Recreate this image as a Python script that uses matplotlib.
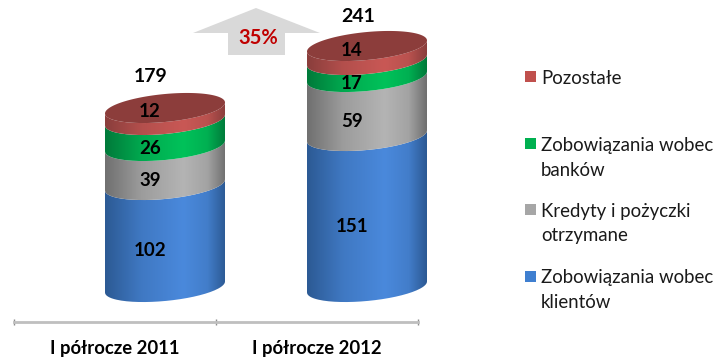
import numpy as np
import matplotlib
matplotlib.use("Agg")
import matplotlib.pyplot as plt
from matplotlib.patches import PathPatch, Polygon, Rectangle
from matplotlib.path import Path

plt.rcParams["font.family"] = ["Lato", "DejaVu Sans"]

periods = ["I półrocze 2011", "I półrocze 2012"]
series_names = ["Zobowiązania wobec\nklientów", "Kredyty i pożyczki\notrzymane",
                "Zobowiązania wobec\nbanków", "Pozostałe"]
klienci = [102, 151]
kredyty = [39, 59]
banki = [26, 17]
pozostale = [12, 14]
totals = [179, 241]
growth = "35%"

edge_cols = ["#2c5a94", "#707070", "#007a3a", "#8a3e3c"]
mid_cols = ["#4a89dc", "#b4b4b4", "#00c25a", "#c95855"]
legend_cols = ["#3f7fd0", "#a6a6a6", "#00b050", "#c0504d"]
top_col = "#8c3d3b"

W, H = 718, 358
PX = 1 / 202  # one category is 202 px wide
HALF_W = 60
ELL_B = 14
TILT = 5.5


def front_arc(cx, y, n=80):
    t = np.cos(np.linspace(np.pi, 0, n))
    return cx + t * HALF_W * PX, y + t * TILT - ELL_B * np.sqrt(1 - t ** 2)


def back_arc(cx, y, n=80):
    t = np.cos(np.linspace(0, np.pi, n))
    return cx + t * HALF_W * PX, y + t * TILT + ELL_B * np.sqrt(1 - t ** 2)


def shade(c_edge, c_mid):
    t = np.linspace(0, 1, 120)
    weight = np.interp(t, [0, 0.3, 0.65, 0.85, 1], [0, 0.65, 1, 0.75, 0])
    a = np.array(matplotlib.colors.to_rgb(c_edge))
    b = np.array(matplotlib.colors.to_rgb(c_mid))
    return (a + (b - a) * weight[:, None])[None, :, :]


def side_segment(fig, ax, cx, y0, y1, c_edge, c_mid):
    xb, yb = front_arc(cx, y0)
    xt, yt = front_arc(cx, y1)
    pts = np.vstack([np.c_[xb, yb], np.c_[xt[::-1], yt[::-1]], [[xb[0], yb[0]]]])
    patch = PathPatch(Path(pts), fc="none", ec="none", transform=ax.transData, clip_on=False)
    ax.add_patch(patch)
    im = ax.imshow(shade(c_edge, c_mid), extent=[cx - HALF_W * PX, cx + HALF_W * PX, y0 - 30, y1 + 30],
                   aspect="auto", zorder=2, interpolation="bilinear")
    im.set_clip_box(fig.bbox)
    im.set_clip_path(patch)


def main():
    fig = plt.figure(figsize=(W / 100, H / 100), dpi=100)
    ax = fig.add_axes([14 / W, (H - 322) / H, 404 / W, 322 / H])
    ax.patch.set_alpha(0)

    stack = [klienci, kredyty, banki, pozostale]
    positions = np.arange(len(periods))
    bar_offset = 50 * PX
    for i, pos in enumerate(positions):
        cx = pos + bar_offset
        bottom = 0
        for k, values in enumerate(stack):
            v = values[i]
            side_segment(fig, ax, cx, bottom, bottom + v, edge_cols[k], mid_cols[k])
            is_top = k == len(stack) - 1
            ax.annotate(str(v), (cx, bottom + v / 2), xytext=(-15 * 0.72, (3 if is_top else -15) * 0.72),
                        textcoords="offset points", ha="center", va="center",
                        fontsize=13.5, fontweight="bold", color="black", zorder=5)
            bottom += v
        xf, yf = front_arc(cx, bottom)
        xk, yk = back_arc(cx, bottom)
        ax.add_patch(Polygon(np.r_[np.c_[xf, yf], np.c_[xk, yk]], closed=True, fc=top_col, ec="none",
                             zorder=3, clip_on=False))

    ax.annotate(str(totals[0]), (positions[0] + bar_offset, totals[0]), xytext=(-14 * 0.72, 32 * 0.72),
                textcoords="offset points", ha="center", va="center", fontsize=14, fontweight="bold")
    ax.annotate(str(totals[1]), (positions[1] + bar_offset, totals[1]), xytext=(-9 * 0.72, 29 * 0.72),
                textcoords="offset points", ha="center", va="center", fontsize=14, fontweight="bold")

    ax.set_xlim(-0.5, 1.5)
    ax.set_ylim(-35, 287)
    ax.set_xticks([-0.5, 0.5, 1.5])
    ax.set_xticklabels([])
    ax.set_xticks(positions, minor=True)
    ax.set_xticklabels(periods, minor=True, fontsize=13.3, fontweight="bold")
    ax.tick_params(axis="x", which="minor", length=0, pad=13)
    ax.tick_params(axis="x", which="major", length=4, width=1, color="#8c8c8c", direction="inout")
    ax.set_yticks([])
    for side in ["top", "left", "right"]:
        ax.spines[side].set_visible(False)
    ax.spines["bottom"].set_color("#bfbfbf")
    ax.spines["bottom"].set_linewidth(2)

    # growth arrow, placed in figure pixels
    def fig_xy(x, y):
        return x / W, 1 - y / H

    arrow = [(256, 8), (320, 33), (285, 33), (285, 55), (228, 55), (228, 33), (193, 33)]
    fig.add_artist(Polygon([fig_xy(*p) for p in arrow], closed=True, fc="#d9d9d9", ec="none",
                           transform=fig.transFigure, zorder=1))
    fig.text(*fig_xy(258, 38), growth, color="#c00000", fontsize=14.5, fontweight="bold",
             ha="center", va="center", zorder=6)

    # legend
    legend_y = [278, 211, 145, 78]
    for name, col, y in zip(series_names, legend_cols, legend_y):
        fig.add_artist(Rectangle(fig_xy(525, y + 4), 11 / W, 11 / H, fc=col, ec="none",
                                 transform=fig.transFigure))
        lines = name.split("\n")
        for j, line in enumerate(lines):
            fig.text(*fig_xy(541, y + j * 25), line, fontsize=13.4, color="#1a1a1a",
                     ha="left", va="center")

    fig.savefig("out.png", dpi=100)


if __name__ == "__main__":
    main()
